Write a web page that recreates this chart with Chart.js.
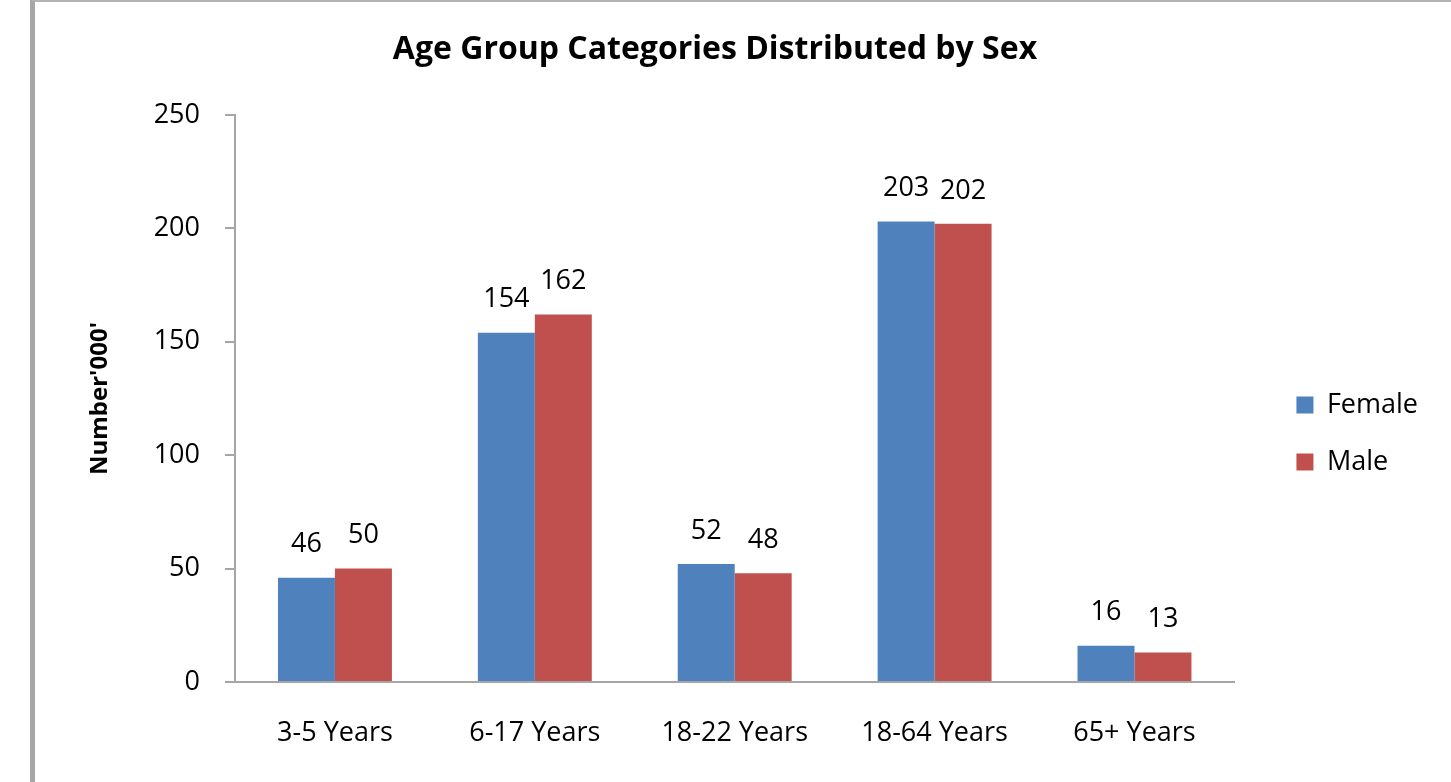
<!DOCTYPE html>
<html>
<head>
<meta charset="utf-8">
<title>Age Group Categories Distributed by Sex</title>
<script src="https://cdn.jsdelivr.net/npm/chart.js@4/dist/chart.umd.min.js"></script>
<style>
  html, body { margin: 0; padding: 0; background: #fff; }
  #wrap { position: relative; width: 1451px; height: 782px; overflow: hidden; }
  #chart { position: absolute; left: 0; top: 0; }
  /* grey frame of the pasted chart: thick left edge, thin top edge */
  #frame {
    position: absolute; left: 30px; top: 0; width: 1500px; height: 800px;
    border-left: 5px solid #a6a6a6; border-top: 2px solid #b4b4b4;
    pointer-events: none;
  }
</style>
</head>
<body>
<div id="wrap">
  <canvas id="chart" width="1451" height="782"></canvas>
  <div id="frame"></div>
</div>
<script>
// values (thousands)
const categories = ['3-5 Years', '6-17 Years', '18-22 Years', '18-64 Years', '65+ Years'];
const female = [46, 154, 52, 203, 16];
const male = [50, 162, 48, 202, 13];
const yTicks = [0, 50, 100, 150, 200, 250];

const FONT = "'Open Sans', 'DejaVu Sans', sans-serif";
const AXIS_GREY = '#a6a6a6';
const PAD_LEFT = 2;

// numbers above each bar (Excel style data labels)
const barLabels = {
  id: 'barLabels',
  afterDatasetsDraw(chart) {
    const ctx = chart.ctx;
    ctx.save();
    ctx.font = '27px ' + FONT;
    ctx.fillStyle = '#000';
    ctx.textAlign = 'center';
    ctx.textBaseline = 'middle';
    chart.data.datasets.forEach((ds, i) => {
      chart.getDatasetMeta(i).data.forEach((bar, j) => {
        ctx.fillText(String(ds.data[j]), bar.x, bar.y - 33);
      });
    });
    ctx.restore();
  },
};

new Chart(document.getElementById('chart'), {
  type: 'bar',
  data: {
    labels: categories,
    datasets: [
      { label: 'Female', data: female, backgroundColor: '#4f81bd', borderWidth: 0 },
      { label: 'Male', data: male, backgroundColor: '#c0504d', borderWidth: 0 },
    ],
  },
  options: {
    responsive: false,
    animation: false,
    devicePixelRatio: 1,
    categoryPercentage: 0.57,
    barPercentage: 1,
    layout: { padding: { left: PAD_LEFT, right: 23, top: 0, bottom: 0 } },
    plugins: {
      title: {
        display: true,
        text: 'Age Group Categories Distributed by Sex',
        color: '#000',
        font: { family: FONT, size: 32, weight: 'bold' },
        padding: { top: 30.8, bottom: 45.8 },
      },
      legend: {
        position: 'right',
        align: 'center',
        // empty title only pushes the two entries a bit below the middle
        title: { display: true, text: '', padding: { top: 35.3, bottom: 35.3 } },
        labels: {
          color: '#000',
          font: { family: FONT, size: 27 },
          boxWidth: 17,
          boxHeight: 17,
          padding: 30,
        },
      },
      tooltip: { enabled: false },
    },
    scales: {
      x: {
        grid: { display: false },
        border: { display: true, color: AXIS_GREY, width: 2 },
        ticks: { color: '#000', font: { family: FONT, size: 27 }, padding: 27.5 },
        afterFit: (s) => { s.height = 100; },
      },
      y: {
        min: 0,
        max: 250,
        afterBuildTicks: (s) => { s.ticks = yTicks.map((v) => ({ value: v })); },
        grid: { drawOnChartArea: false, drawTicks: true, tickLength: 10, color: AXIS_GREY, lineWidth: 2 },
        border: { display: true, color: AXIS_GREY, width: 2 },
        ticks: { color: '#000', font: { family: FONT, size: 27 }, padding: 25 },
        title: {
          display: true,
          text: "Number'000'",
          color: '#000',
          font: { family: FONT, size: 24, weight: 'bold' },
          padding: { top: 100 - PAD_LEFT - 14.4, bottom: 0 },
        },
        afterFit: (s) => { s.width = 235 - PAD_LEFT; },
      },
      // empty spacer between plot and legend
      gap: {
        type: 'linear',
        position: 'right',
        grid: { display: false },
        border: { display: false },
        ticks: { display: false },
        afterFit: (s) => { s.width = 32; },
      },
    },
  },
  plugins: [barLabels],
});
</script>
</body>
</html>
